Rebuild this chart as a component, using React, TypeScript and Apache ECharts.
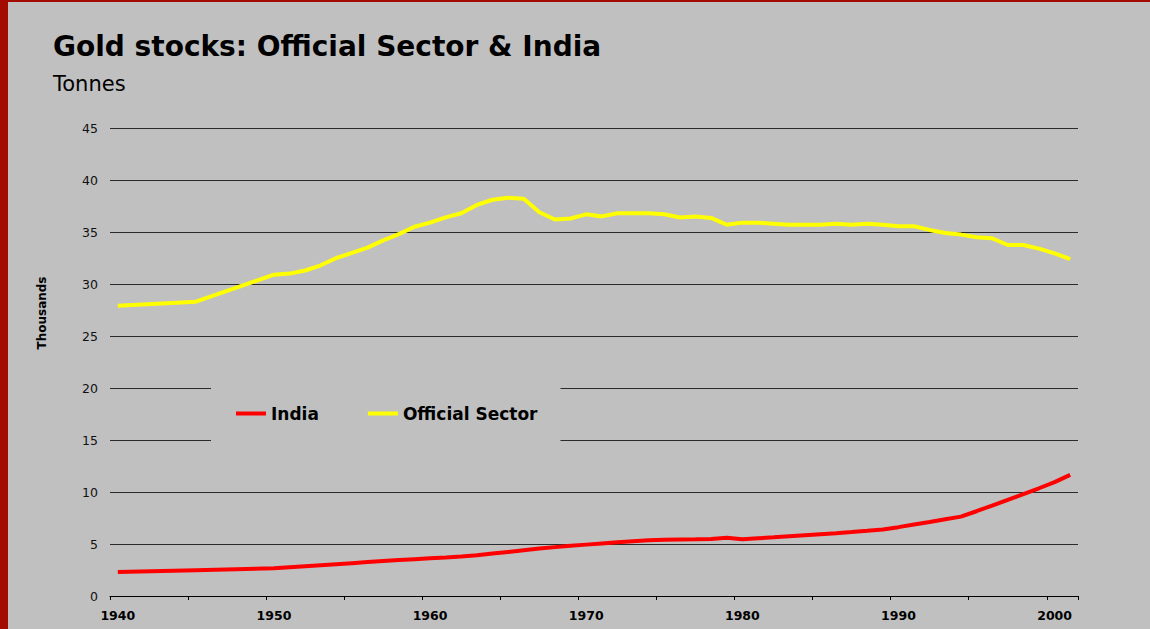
import React, { useEffect, useRef } from "react";
import * as echarts from "echarts";

const years: string[] = [
  "1940", "1941", "1942", "1943", "1944", "1945", "1946", "1947", "1948", "1949",
  "1950", "1951", "1952", "1953", "1954", "1955", "1956", "1957", "1958", "1959",
  "1960", "1961", "1962", "1963", "1964", "1965", "1966", "1967", "1968", "1969",
  "1970", "1971", "1972", "1973", "1974", "1975", "1976", "1977", "1978", "1979",
  "1980", "1981", "1982", "1983", "1984", "1985", "1986", "1987", "1988", "1989",
  "1990", "1991", "1992", "1993", "1994", "1995", "1996", "1997", "1998", "1999",
  "2000", "2001",
];

// Thousands of tonnes
const india: (number | null)[] = [
  2.3, null, null, null, null, 2.48, null, null, null, null,
  2.66, 2.76, 2.86, 2.96, 3.06, 3.16, 3.26, 3.36, 3.46, 3.54,
  3.62, 3.7, 3.8, 3.92, 4.08, 4.24, 4.4, 4.56, 4.7, 4.83,
  4.94, 5.05, 5.16, 5.27, 5.35, 5.4, 5.43, 5.45, 5.48, 5.6,
  5.45, 5.55, 5.64, 5.74, 5.84, 5.94, 6.04, 6.15, 6.27, 6.4,
  6.62, 6.88, 7.12, 7.38, 7.63, 8.15, 8.7, 9.25, 9.8, 10.36,
  10.95, 11.65,
];

const officialSector: (number | null)[] = [
  27.9, null, null, null, null, 28.3, null, null, null, null,
  30.9, 31.0, 31.3, 31.8, 32.5, 33.0, 33.5, 34.2, 34.8, 35.5,
  35.9, 36.4, 36.8, 37.6, 38.1, 38.3, 38.2, 36.9, 36.2, 36.3,
  36.7, 36.5, 36.8, 36.8, 36.8, 36.7, 36.4, 36.5, 36.35, 35.7,
  35.9, 35.9, 35.8, 35.7, 35.7, 35.7, 35.8, 35.7, 35.8, 35.7,
  35.55, 35.55, 35.2, 34.9, 34.75, 34.5, 34.4, 33.75, 33.75, 33.4,
  32.95, 32.4,
];

const FONT = "'DejaVu Sans', Verdana, sans-serif";

export default function App() {
  const ref = useRef<HTMLDivElement>(null);

  useEffect(() => {
    if (!ref.current) return;
    const chart = echarts.init(ref.current, null, { renderer: "svg" });
    chart.setOption({
      animation: false,
      backgroundColor: "#c0c0c0",
      title: [
        {
          text: "Gold stocks: Official Sector & India",
          left: 53,
          top: 32,
          padding: 0,
          textStyle: { fontFamily: FONT, fontWeight: "bold", fontSize: 28, color: "#000" },
        },
        {
          text: "Tonnes",
          left: 53,
          top: 73,
          padding: 0,
          textStyle: { fontFamily: FONT, fontWeight: "normal", fontSize: 21, color: "#000" },
        },
      ],
      graphic: [
        {
          type: "text",
          x: 42,
          y: 313,
          rotation: Math.PI / 2,
          style: {
            text: "Thousands",
            font: `bold 12px ${FONT}`,
            fill: "#000",
            textAlign: "center",
            textVerticalAlign: "middle",
          },
        },
      ],
      legend: {
        data: ["India", "Official Sector"],
        left: 211,
        top: 386,
        padding: [19, 23, 19, 25],
        itemGap: 49,
        itemWidth: 30,
        itemHeight: 4,
        icon: "rect",
        backgroundColor: "#c0c0c0",
        textStyle: { fontFamily: FONT, fontWeight: "bold", fontSize: 17, color: "#000" },
        z: 10,
      },
      grid: { left: 110, right: 72, top: 128, bottom: 33, containLabel: false },
      xAxis: {
        type: "category",
        data: years,
        boundaryGap: true,
        axisLine: { show: true, lineStyle: { color: "#000", width: 1 } },
        axisTick: { show: true, interval: 4, length: 4, lineStyle: { color: "#000" } },
        axisLabel: {
          interval: 9,
          margin: 13,
          fontFamily: FONT,
          fontWeight: "bold",
          fontSize: 12.5,
          color: "#000",
        },
        splitLine: { show: false },
      },
      yAxis: {
        type: "value",
        min: 0,
        max: 45,
        interval: 5,
        axisLine: { show: false },
        axisTick: { show: false },
        axisLabel: { margin: 12, fontFamily: FONT, fontSize: 12.5, color: "#111" },
        splitLine: { show: true, lineStyle: { color: "#2a2a2a", width: 1 } },
      },
      series: [
        {
          name: "India",
          type: "line",
          data: india,
          connectNulls: true,
          showSymbol: false,
          symbol: "none",
          lineStyle: { color: "#ff0000", width: 4 },
          itemStyle: { color: "#ff0000" },
          z: 3,
        },
        {
          name: "Official Sector",
          type: "line",
          data: officialSector,
          connectNulls: true,
          showSymbol: false,
          symbol: "none",
          lineStyle: { color: "#ffff00", width: 4 },
          itemStyle: { color: "#ffff00" },
          z: 3,
        },
      ],
    });
    return () => chart.dispose();
  }, []);

  return (
    <div style={{ position: "fixed", left: 0, top: 0, width: 1150, height: 629, overflow: "hidden" }}>
      <div ref={ref} style={{ position: "absolute", left: 0, top: 0, width: 1150, height: 629 }} />
      <div style={{ position: "absolute", left: 0, top: 0, width: 8, height: 629, background: "#a30a00" }} />
      <div style={{ position: "absolute", left: 0, top: 0, width: 1150, height: 2, background: "#a30a00" }} />
    </div>
  );
}
